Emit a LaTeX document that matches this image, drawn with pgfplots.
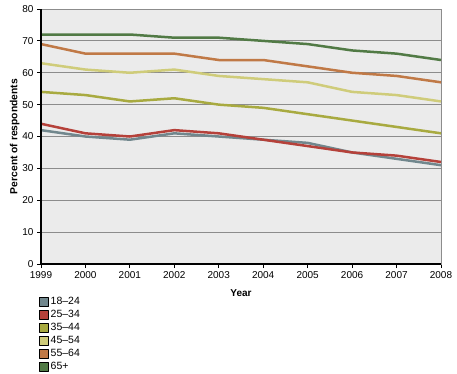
\documentclass[border=0pt]{standalone}
\usepackage{fontspec}
\setmainfont{Liberation Sans}
\usepackage{pgfplots}
\pgfplotsset{compat=1.18}
\definecolor{cA}{HTML}{71878D}
\definecolor{cB}{HTML}{B5413A}
\definecolor{cC}{HTML}{A8AA40}
\definecolor{cD}{HTML}{CFCC7A}
\definecolor{cE}{HTML}{C07946}
\definecolor{cF}{HTML}{517A45}
\definecolor{bg}{HTML}{EBEBEB}
\pgfplotsset{sq/.style={legend image code/.code={\draw[black,fill=#1,line width=0.5pt] (0pt,-4.5pt) rectangle (9pt,4.5pt);}}}
\begin{document}
\begin{tikzpicture}
\useasboundingbox (-41pt,-109pt) rectangle (416pt,264pt);
\begin{axis}[
  scale only axis,
  width=400pt, height=255pt,
  at={(0,0)}, anchor=south west,
  xmin=1999, xmax=2008, ymin=0, ymax=80,
  xtick={1999,...,2008},
  ytick={0,10,...,80},
  /pgf/number format/1000 sep={},
  /pgf/number format/assume math mode=true,
  tick label style={font=\fontsize{10}{12}\selectfont},
  tick align=outside,
  tick style={black, line width=0.8pt},
  major tick length=4pt,
  xtick pos=bottom, ytick pos=left,
  axis background/.style={fill=bg},
  axis line style={draw=gray!90, line width=0.8pt},
  ymajorgrids,
  grid style={gray!90, line width=0.8pt},
  ylabel={\bfseries Percent of respondents},
  ylabel style={font=\fontsize{10.3}{12}\selectfont, yshift=-4pt},
  xlabel={\bfseries Year},
  xlabel style={font=\fontsize{10}{12}\selectfont, yshift=-4pt},
  legend style={draw=none, fill=none, at={(rel axis cs:0,0)}, anchor=north west, yshift=-31pt, xshift=-2pt,
    font=\fontsize{10.5}{12}\selectfont, row sep=0.2pt, inner sep=0pt},
  legend cell align=left,
  every axis plot/.append style={line width=2.5pt, line join=round},
  clip=false,
]
\addplot[cA, sq=cA] coordinates {(1999,42) (2000,40) (2001,39) (2002,41) (2003,40) (2004,39) (2005,38) (2006,35) (2007,33) (2008,31)};
\addlegendentry{18–24}
\addplot[cB, sq=cB] coordinates {(1999,44) (2000,41) (2001,40) (2002,42) (2003,41) (2004,39) (2005,37) (2006,35) (2007,34) (2008,32)};
\addlegendentry{25–34}
\addplot[cC, sq=cC] coordinates {(1999,54) (2000,53) (2001,51) (2002,52) (2003,50) (2004,49) (2005,47) (2006,45) (2007,43) (2008,41)};
\addlegendentry{35–44}
\addplot[cD, sq=cD] coordinates {(1999,63) (2000,61) (2001,60) (2002,61) (2003,59) (2004,58) (2005,57) (2006,54) (2007,53) (2008,51)};
\addlegendentry{45–54}
\addplot[cE, sq=cE] coordinates {(1999,69) (2000,66) (2001,66) (2002,66) (2003,64) (2004,64) (2005,62) (2006,60) (2007,59) (2008,57)};
\addlegendentry{55–64}
\addplot[cF, sq=cF] coordinates {(1999,72) (2000,72) (2001,72) (2002,71) (2003,71) (2004,70) (2005,69) (2006,67) (2007,66) (2008,64)};
\addlegendentry{65+}
\draw[black, line width=1.6pt] (rel axis cs:0,1) -- (rel axis cs:0,0) -- (rel axis cs:1,0);
\end{axis}
\end{tikzpicture}
\end{document}
